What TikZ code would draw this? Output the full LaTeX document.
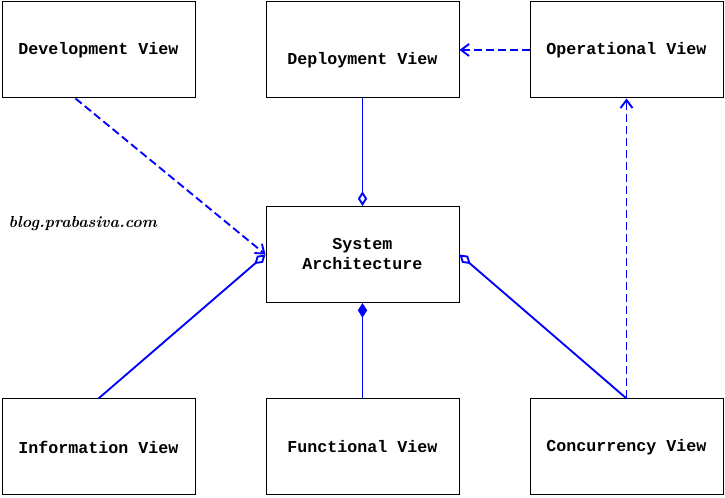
\documentclass[tikz,border=0pt]{standalone}
\usepackage{fontspec}
\setmonofont{Liberation Mono}
\usetikzlibrary{arrows.meta}
\begin{document}
\begin{tikzpicture}[x=0.75pt,y=-0.75pt,
  view/.style = {draw,line width=0.75pt,minimum width=144.75pt,minimum height=72pt,inner sep=0pt,
                 font=\fontsize{12.5}{15}\selectfont\ttfamily\bfseries,align=center},
  link/.style = {blue,line width=1.4pt},
  arrow/.style = {link,dash pattern=on 6pt off 3pt,-{Straight Barb[length=6pt,width=9pt]}},
  agg/.style = {link,-{Diamond[open,length=11pt,width=7pt]}},
  comp/.style = {link,-{Diamond[length=11pt,width=7pt]}}]
\useasboundingbox (0,0) rectangle (725,498);

\node [view] (dev)  at (98.5,50)  {Development View};
\node [view] (dep)  at (362.5,50) {};
\node [font=\fontsize{12.5}{15}\selectfont\ttfamily\bfseries] (deplabel) at (362.5,60) {Deployment View};
\node [view] (ops)  at (626.5,50) {Operational View};
\node [view] (sys)  at (362.5,254.5) {System\\Architecture};
\node [view] (info) at (98.5,447) {Information View};
\node [view] (func) at (362.5,447) {Functional View};
\node [view] (conc) at (626.5,447) {Concurrency View};

\node [anchor=west,font=\fontsize{12}{14}\selectfont\rmfamily\bfseries\itshape] (mark) at (4,224) {blog.prabasiva.com};

\coordinate (devfoot) at ([xshift=-17.25pt]dev.south);

\draw[arrow] (ops.west) -- (dep.east);
\draw[arrow] (devfoot) -- (sys.west);
\draw[arrow] (conc.north) -- (ops.south);
\draw[agg] (dep.south) -- (sys.north);
\draw[agg] (info.north) -- (sys.west);
\draw[agg] (conc.north) -- (sys.east);
\draw[comp] (func.north) -- (sys.south);
\end{tikzpicture}
\end{document}
